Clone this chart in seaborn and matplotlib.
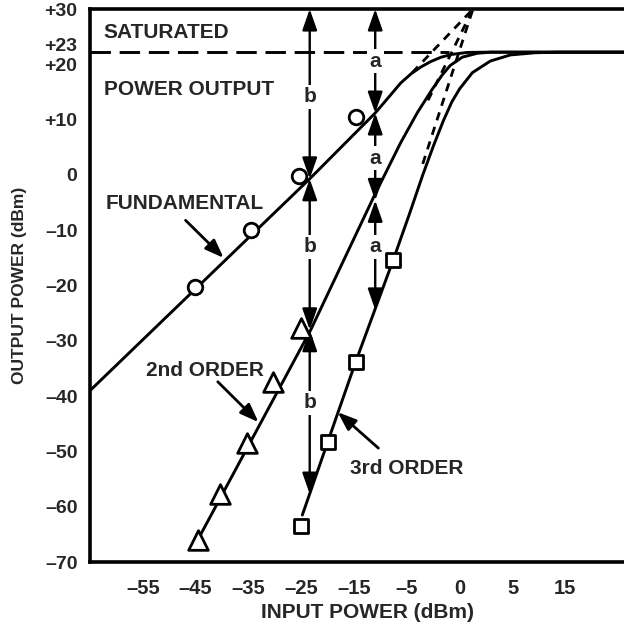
import matplotlib
matplotlib.use("Agg")
import matplotlib.pyplot as plt
import matplotlib.transforms as mtransforms
import seaborn as sns

# ------------------------------------------
# Data (input position, output dBm)
# ------------------------------------------
fund_u = [-65.0, -23.4, -11.0, -8.5, -6.2, -4.2, -2.4, -0.5, 1.5, 3.5, 6.4, 10.0, 36.1]
fund_y = [-39.0, -0.7, 11.2, 14.0, 16.6, 18.3, 19.5, 20.5, 21.3, 21.8, 22.15, 22.2, 22.2]

second_u = [-44.6, -23.2, -11.3, -6.2, -3.0, -0.2, 1.7, 3.2, 5.5, 8.3, 10.8, 36.1]
second_y = [-66.0, -28.0, -4.0, 5.8, 11.3, 15.5, 18.1, 19.8, 21.3, 22.0, 22.2, 22.2]

third_u = [-24.8, -20.0, -14.7, -7.6, -4.5, -2.0, 0.0, 1.9, 3.5, 5.0, 7.4, 10.8, 14.6, 19.3, 24.0, 36.1]
third_y = [-61.5, -48.3, -33.8, -15.4, -7.0, 0.0, 5.2, 9.8, 13.2, 15.6, 18.5, 20.6, 21.7, 22.1, 22.2, 22.2]

circle_u = [-45.2, -34.6, -25.5, -14.7]
circle_y = [-20.3, -10.0, -0.2, 10.5]
tri_u = [-44.6, -40.3, -35.2, -30.4, -25.1]
tri_y = [-66.0, -57.7, -48.5, -37.5, -27.7]
sq_u = [-25.1, -20.0, -14.7, -7.6]
sq_y = [-63.5, -48.3, -33.8, -15.4]

# extrapolated (dashed) lines to the intercept point
fund_ext_u = [-4.0, 7.5]
fund_ext_y = [18.5, 30.0]
second_ext_u = [-1.0, 7.5]
second_ext_y = [13.5, 30.0]
third_ext_u = [-2.0, 7.5]
third_ext_y = [2.0, 30.0]

sat_u = [-65.0, 3.0]
sat_y = [22.2, 22.2]

# vertical measuring arrows: x position and levels (top, fund, 2nd, 3rd)
b_u = -23.4
b_levels = [30.0, -0.7, -28.0, -57.7]
a_u = -11.0
a_levels = [30.0, 11.2, -4.6, -24.4]

x_ticks = [-55, -45, -35, -25, -15, -5, 5, 15, 25]
x_labels = ['\u201355', '\u201345', '\u201335', '\u201325', '\u201315', '\u20135', '0', '5', '15']
y_ticks = [30, 23, 20, 10, 0, -10, -20, -30, -40, -50, -60, -70]
y_labels = ['+30', '+23', '+20', '+10', '0', '\u201310', '\u201320', '\u201330',
            '\u201340', '\u201350', '\u201360', '\u201370']

# ------------------------------------------
# Plot
# ------------------------------------------
sns.set_style('white')
plt.rcParams['font.family'] = ['Liberation Sans', 'DejaVu Sans']
plt.rcParams['font.weight'] = 'bold'

fig = plt.figure(figsize=(6.24, 6.28), dpi=100)
ax = fig.add_axes([0.1442, 0.105, 0.8558, 0.8806])

lw = 2.1
for u, y in [(fund_u, fund_y), (second_u, second_y), (third_u, third_y)]:
    sns.lineplot(x=u, y=y, ax=ax, color='black', lw=lw, sort=False, estimator=None)

for u, y in [(fund_ext_u, fund_ext_y), (second_ext_u, second_ext_y), (third_ext_u, third_ext_y)]:
    ax.plot(u, y, color='black', lw=2.0, ls=(0, (3, 2.5)))

ax.plot(sat_u, sat_y, color='black', lw=2.1, ls=(0, (7, 3)))

sns.scatterplot(x=circle_u, y=circle_y, ax=ax, marker='o', s=110, facecolor='white',
                edgecolor='black', linewidth=2.0, zorder=5)
sns.scatterplot(x=tri_u, y=tri_y, ax=ax, marker='^', s=200, facecolor='white',
                edgecolor='black', linewidth=2.0, zorder=5)
sns.scatterplot(x=sq_u, y=sq_y, ax=ax, marker='s', s=95, facecolor='white',
                edgecolor='black', linewidth=2.0, zorder=5)

# measuring arrows
arrow_kw = dict(arrowstyle='<|-|>,head_length=0.8,head_width=0.28', color='black',
                lw=1.7, shrinkA=0, shrinkB=0, mutation_scale=16)
for xu, levels, letter, label_y in [(b_u, b_levels, 'b', [14.1, -13.0, -41.2]),
                                    (a_u, a_levels, 'a', [20.6, 3.0, -13.0])]:
    for i in range(3):
        ax.annotate('', xy=(xu, levels[i + 1]), xytext=(xu, levels[i]),
                    arrowprops=arrow_kw, zorder=4)
        ax.text(xu, label_y[i], letter, ha='center', va='center', fontsize=15,
                fontweight='bold', zorder=6,
                bbox=dict(boxstyle='square,pad=0.12', fc='white', ec='none'))

# text labels
ax.text(-62.4, 25.8, 'SATURATED', fontsize=15, fontweight='bold', va='center')
ax.text(-62.4, 15.4, 'POWER OUTPUT', fontsize=15, fontweight='bold', va='center')
ax.text(-62.0, -5.1, 'FUNDAMENTAL', fontsize=15, fontweight='bold', va='center')
ax.text(-54.4, -35.3, '2nd ORDER', fontsize=15, fontweight='bold', va='center')
ax.text(-15.7, -53.0, '3rd ORDER', fontsize=15, fontweight='bold', va='center')

pointer = dict(arrowstyle='-|>,head_length=0.8,head_width=0.3', color='black',
               lw=2.0, shrinkA=0, shrinkB=0, mutation_scale=14)
ax.annotate('', xy=(-39.7, -15.0), xytext=(-46.9, -8.2), arrowprops=pointer)
ax.annotate('', xy=(-33.1, -44.7), xytext=(-40.8, -37.4), arrowprops=pointer)
ax.annotate('', xy=(-18.1, -42.9), xytext=(-10.4, -49.4), arrowprops=pointer)

# axes
ax.set_xlim(-65, 36.1)
ax.set_ylim(-70, 30)
ax.set_xticks(x_ticks)
ax.set_xticklabels(x_labels, fontsize=14.5, fontweight='bold')
ax.set_yticks(y_ticks)
ax.set_yticklabels(y_labels, fontsize=14, fontweight='bold')
ax.tick_params(axis='both', direction='in', length=11, width=2.4, color='black')
ax.tick_params(axis='x', pad=12)
ax.tick_params(axis='y', pad=9)
ax.yaxis.get_major_ticks()[1].tick1line.set_visible(False)
lab23 = ax.get_yticklabels()[1]
lab23.set_transform(lab23.get_transform() +
                    mtransforms.ScaledTranslation(0, 2.5 / 72, fig.dpi_scale_trans))

for side in ['left', 'top', 'bottom']:
    ax.spines[side].set_linewidth(2.6)
    ax.spines[side].set_color('black')
ax.spines['right'].set_visible(False)

ax.set_xlabel('INPUT POWER (dBm)', fontsize=15, fontweight='bold')
ax.set_ylabel('OUTPUT POWER (dBm)', fontsize=12.5, fontweight='bold')
ax.xaxis.set_label_coords(0.519, -0.074)
ax.yaxis.set_label_coords(-0.118, 0.5)
ax.grid(False)

fig.savefig('out.png', dpi=100, facecolor='white')
